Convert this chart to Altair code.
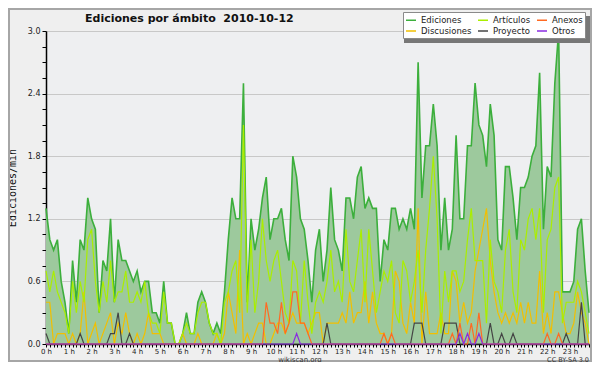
import altair as alt
import pandas as pd

# ---- data (edits per minute, 10-minute bins, 2010-10-12) ----
slot_minutes = list(range(0, 1440, 10))  # 144 bins: 00:00 .. 23:50

ediciones = [
    1.3, 1.0, 0.9, 1.0, 0.6, 0.4, 0.1, 0.8, 0.4, 1.0,
    0.9, 1.4, 1.2, 1.1, 0.3, 0.8, 0.7, 1.2, 0.4, 1.0,
    0.8, 0.8, 0.7, 0.6, 0.7, 0.5, 0.6, 0.6, 0.3, 0.3,
    0.2, 0.6, 0.2, 0.2, 0.0, 0.0, 0.1, 0.3, 0.1, 0.1,
    0.4, 0.5, 0.4, 0.2, 0.1, 0.2, 0.1, 0.5, 1.0, 1.4,
    1.2, 1.2, 2.5, 0.4, 1.2, 0.9, 1.1, 1.4, 1.6, 1.0,
    1.2, 1.2, 1.3, 1.0, 0.8, 1.8, 1.6, 1.2, 1.1, 0.8,
    0.4, 0.9, 1.1, 0.6, 0.9, 1.5, 1.0, 0.9, 0.7, 1.4,
    1.4, 1.2, 1.6, 1.7, 1.3, 1.4, 1.3, 1.3, 0.6, 1.0,
    0.9, 1.3, 1.3, 1.1, 1.2, 1.1, 1.3, 1.1, 2.7, 1.4,
    1.9, 1.9, 2.3, 1.9, 0.9, 1.4, 0.9, 1.1, 2.0, 1.2,
    1.2, 1.9, 1.9, 2.5, 2.1, 2.0, 1.7, 2.3, 2.0, 1.0,
    0.9, 1.7, 1.7, 1.4, 1.0, 1.5, 1.5, 1.6, 1.8, 1.9,
    2.6, 1.1, 1.7, 1.6, 2.5, 3.0, 0.5, 0.5, 0.5, 0.6,
    1.1, 1.2, 0.7, 0.3,
]

articulos = [
    0.7, 0.5, 0.7, 0.5, 0.4, 0.3, 0.1, 0.6, 0.3, 0.6,
    0.4, 1.0, 1.1, 0.6, 0.3, 0.6, 0.4, 0.8, 0.4, 0.5,
    0.5, 0.7, 0.4, 0.4, 0.5, 0.4, 0.6, 0.3, 0.2, 0.2,
    0.1, 0.5, 0.2, 0.2, 0.0, 0.0, 0.1, 0.2, 0.1, 0.1,
    0.3, 0.4, 0.4, 0.2, 0.1, 0.1, 0.0, 0.4, 0.5, 0.7,
    0.8, 0.3, 2.1, 0.3, 1.0, 0.3, 0.6, 1.2, 0.8, 0.6,
    0.8, 0.9, 0.6, 0.3, 0.2, 0.8, 0.7, 0.2, 0.8, 0.4,
    0.1, 0.4, 0.5, 0.4, 0.6, 0.9, 0.5, 0.6, 0.4, 1.1,
    0.6, 0.5, 0.8, 1.1, 0.4, 1.1, 0.7, 0.3, 0.5, 0.7,
    0.6, 0.8, 0.3, 0.2, 0.8, 0.7, 0.4, 0.6, 0.9, 0.3,
    0.9, 1.3, 1.8, 1.2, 0.1, 0.7, 0.4, 0.7, 0.7, 0.5,
    0.6, 1.0, 1.3, 0.8, 0.8, 0.8, 0.2, 1.0, 0.6, 0.5,
    0.3, 0.9, 1.1, 0.5, 0.3, 1.0, 0.9, 1.2, 1.3, 1.0,
    1.3, 0.3, 1.0, 1.1, 1.5, 1.6, 0.2, 0.4, 0.4, 0.4,
    0.6, 0.5, 0.3, 0.1,
]

discusiones = [
    0.4, 0.4, 0.0, 0.1, 0.1, 0.1, 0.0, 0.1, 0.0, 0.1,
    0.5, 0.0, 0.1, 0.2, 0.0, 0.1, 0.2, 0.3, 0.0, 0.2,
    0.1, 0.3, 0.1, 0.0, 0.1, 0.0, 0.1, 0.3, 0.1, 0.1,
    0.1, 0.0, 0.0, 0.0, 0.0, 0.0, 0.1, 0.0, 0.0, 0.0,
    0.1, 0.0, 0.0, 0.0, 0.0, 0.1, 0.0, 0.1, 0.5, 0.3,
    0.1, 0.9, 0.0, 0.1, 0.0, 0.1, 0.2, 0.2, 0.0, 0.0,
    0.1, 0.2, 0.2, 0.1, 0.2, 0.3, 0.2, 0.2, 0.2, 0.1,
    0.2, 0.3, 0.3, 0.0, 0.2, 0.2, 0.2, 0.2, 0.3, 0.2,
    0.5, 0.2, 0.3, 0.3, 0.6, 0.2, 0.5, 0.2, 0.1, 0.1,
    0.0, 0.1, 0.7, 0.6, 0.2, 0.1, 0.4, 0.2, 1.3, 0.0,
    0.5, 0.1, 0.1, 0.1, 0.3, 0.1, 0.1, 0.7, 0.6, 0.2,
    0.4, 0.2, 0.3, 0.7, 0.9, 1.1, 1.3, 0.8, 0.5, 0.3,
    0.2, 0.3, 0.2, 0.3, 0.2, 0.4, 0.2, 0.4, 0.2, 0.2,
    0.7, 0.1, 0.3, 0.1, 0.5, 0.5, 0.3, 0.1, 0.1, 0.2,
    0.5, 0.3, 0.2, 0.0,
]

# sparse series: {bin index: value}
anexos_nonzero = {58: 0.4, 59: 0.2, 60: 0.2, 61: 0.1, 62: 0.4, 63: 0.1, 64: 0.2,
                  65: 0.5, 66: 0.5, 67: 0.2, 68: 0.2, 69: 0.1, 89: 0.1, 91: 0.1,
                  107: 0.1, 109: 0.2, 112: 0.2, 114: 0.3, 132: 0.1, 135: 0.1}
proyecto_nonzero = {0: 0.1, 9: 0.1, 17: 0.1, 18: 0.1, 19: 0.3, 22: 0.1, 74: 0.2,
                    97: 0.2, 98: 0.2, 99: 0.2, 105: 0.2, 106: 0.2, 107: 0.2,
                    108: 0.2, 117: 0.2, 120: 0.1, 123: 0.1, 137: 0.1, 141: 0.4}
otros_nonzero = {66: 0.1, 109: 0.1, 111: 0.1, 114: 0.1}

anexos = [anexos_nonzero.get(i, 0.0) for i in range(144)]
proyecto = [proyecto_nonzero.get(i, 0.0) for i in range(144)]
otros = [otros_nonzero.get(i, 0.0) for i in range(144)]

# legend fills column by column: (Ediciones, Discusiones), (Artículos, Proyecto), (Anexos, Otros)
series_names = ["Ediciones", "Discusiones", "Artículos", "Proyecto", "Anexos", "Otros"]
series_colors = ["#3caf3c", "#f2bf00", "#aaee00", "#444444", "#ff6a22", "#8a2be2"]
series_values = {
    "Ediciones": ediciones, "Artículos": articulos, "Anexos": anexos,
    "Discusiones": discusiones, "Proyecto": proyecto, "Otros": otros,
}

title_text = "Ediciones por ámbito\u00a0 2010-10-12"
site_text = "wikiscan.org"
license_text = "CC BY-SA 3.0"

rows = []
for name in series_names:
    for t, v in zip(slot_minutes, series_values[name]):
        rows.append({"t": t, "v": v, "serie": name})
df = pd.DataFrame(rows)
df_total = df[df.serie == "Ediciones"]
df_sub = df[df.serie != "Ediciones"]

x_ticks = list(range(0, 1440, 10))
y_ticks = [round(k * 0.15, 2) for k in range(21)]

W, H = 543, 313

x_enc = alt.X(
    "t:Q",
    scale=alt.Scale(domain=[0, 1430], nice=False, zero=False),
    axis=alt.Axis(
        values=x_ticks,
        labelExpr="datum.value % 60 == 0 ? (datum.value / 60) + ' h' : ''",
        labelOverlap=False, labelFlush=False, labelBound=False,
        grid=False, title=None, tickSize=3, tickColor="#000", tickWidth=1,
        domainColor="#000", domainWidth=1.5, labelFont="DejaVu Sans",
        labelFontSize=7, labelColor="#222", labelPadding=0,
    ),
)
y_enc = alt.Y(
    "v:Q",
    scale=alt.Scale(domain=[0, 3.0], nice=False),
    axis=alt.Axis(
        values=y_ticks,
        labelExpr="round(datum.value * 100) % 60 == 0 ? format(datum.value, '.1f') : ''",
        labelOverlap=False, labelFlush=False, labelBound=False,
        grid=True, gridColor="#c8c8c8", gridWidth=1,
        gridOpacity={"condition": {"test": "round(datum.value * 100) % 60 == 0 && datum.value > 0",
                                   "value": 1}, "value": 0},
        tickSize=4, tickColor="#000", domainColor="#000", domainWidth=1.5,
        labelFont="DejaVu Sans", labelFontSize=8, labelColor="#222", labelPadding=2,
        title="Ediciones/min", titleFont="DejaVu Sans Mono", titleFontSize=10,
        titleFontWeight="normal", titleColor="#111", titleAngle=270,
        titleX=-34, titleY=H / 2, titleAlign="center", titleBaseline="middle",
    ),
)

color_enc = alt.Color(
    "serie:N",
    scale=alt.Scale(domain=series_names, range=series_colors),
    legend=alt.Legend(
        orient="none", legendX=357, legendY=-19, columns=3, title=None,
        fillColor="#ffffff", strokeColor="#8a8a8a", padding=2,
        labelFont="DejaVu Sans", labelFontSize=8.5, labelColor="#222",
        symbolType="stroke", symbolSize=100, symbolStrokeWidth=1.5,
        rowPadding=0, columnPadding=3, labelOffset=4, cornerRadius=0,
    ),
)

area = alt.Chart(df_total).mark_area(color="#9dc99d", opacity=1, line=False).encode(
    x=x_enc, y=y_enc
)
line_total = alt.Chart(df_total).mark_line(strokeWidth=1.6).encode(
    x=x_enc, y=y_enc, color=color_enc
)
line_sub = alt.Chart(df_sub).mark_line(strokeWidth=1.2).encode(
    x=x_enc, y=y_enc, color=color_enc, detail="serie:N",
    order=alt.Order("t:Q"),
)

one = pd.DataFrame({"a": [0]})
shadow = alt.Chart(one).mark_rect(color="#777777").encode(
    x=alt.value(358), x2=alt.value(546), y=alt.value(-15), y2=alt.value(12)
)
frame = alt.Chart(one).mark_rect(fill=None, stroke="#a6a6a6", strokeWidth=2).encode(
    x=alt.value(-37), x2=alt.value(545), y=alt.value(-22), y2=alt.value(330)
)
title = alt.Chart(one).mark_text(
    text=title_text, font="DejaVu Sans", fontSize=11, fontWeight="bold",
    color="#111", align="left", baseline="alphabetic"
).encode(x=alt.value(39), y=alt.value(-9))
site = alt.Chart(one).mark_text(
    text=site_text, font="DejaVu Sans", fontSize=7, color="#333",
    align="center", baseline="alphabetic"
).encode(x=alt.value(254), y=alt.value(330.5))
lic = alt.Chart(one).mark_text(
    text=license_text, font="DejaVu Sans", fontSize=6.5, color="#333",
    align="right", baseline="alphabetic"
).encode(x=alt.value(543), y=alt.value(330.5))

chart = alt.layer(area, line_total, line_sub, shadow, frame, title, site, lic).properties(
    width=W, height=H,
    autosize=alt.AutoSizeParams(type="none"),
    padding={"left": 38, "top": 23, "right": 3, "bottom": 18},
    background="#efefef",
).configure_view(fill="#eeeff1", stroke=None)

chart.save("out.html", embed_options={"renderer": "svg", "actions": False})
